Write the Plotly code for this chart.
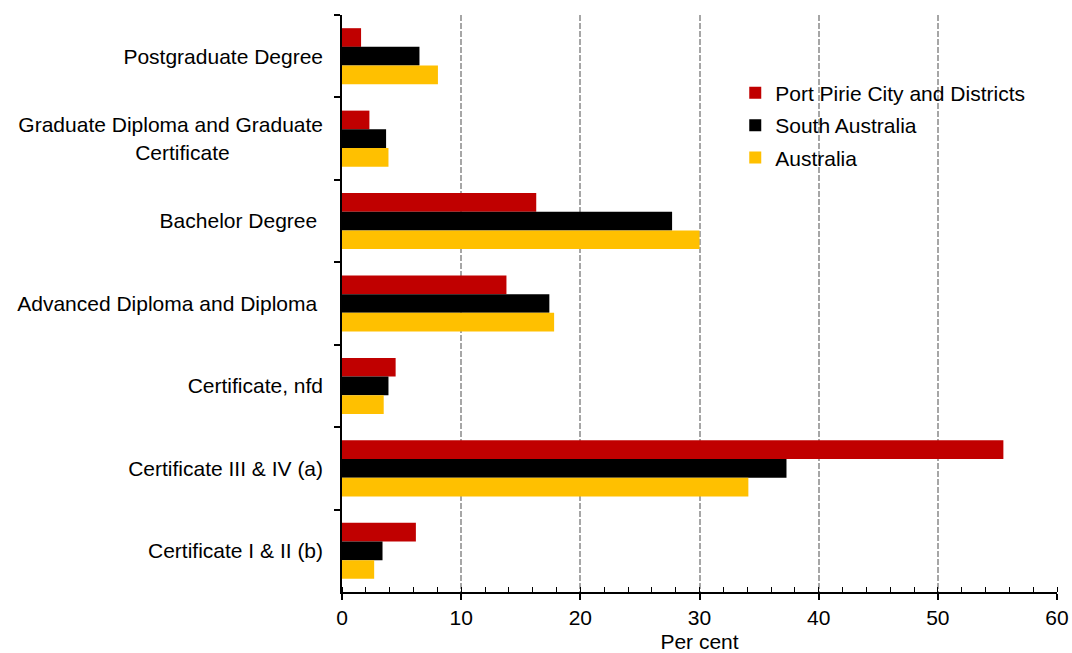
import plotly.graph_objects as go

categories = [
    "Postgraduate Degree",
    "Graduate Diploma and Graduate<br>Certificate" + "\u00a0" * 16,
    "Bachelor Degree\u00a0",
    "Advanced Diploma and Diploma\u00a0",
    "Certificate, nfd",
    "Certificate III & IV (a)",
    "Certificate I & II (b)",
]
port_pirie = [1.6, 2.3, 16.3, 13.8, 4.5, 55.5, 6.2]
south_australia = [6.5, 3.7, 27.7, 17.4, 3.9, 37.3, 3.4]
australia = [8.05, 3.9, 30.0, 17.8, 3.5, 34.1, 2.7]

series = [
    ("Port Pirie City and Districts", port_pirie, "#C00000"),
    ("South Australia", south_australia, "#000000"),
    ("Australia", australia, "#FFC000"),
]

fig = go.Figure()
for i, (name, vals, color) in enumerate(series):
    fig.add_trace(go.Bar(
        y=categories, x=vals, name=name, orientation="h",
        legendgroup=f"g{i}",
        marker=dict(color=color, line=dict(width=0)),
    ))

font_family = "Liberation Sans, Arial, sans-serif"
fig.update_layout(
    width=1072, height=653,
    margin=dict(l=342, r=15, t=15, b=61, autoexpand=False),
    paper_bgcolor="white", plot_bgcolor="white",
    barmode="group", bargap=0.32, bargroupgap=0,
    font=dict(family=font_family, size=21, color="black"),
    showlegend=True,
    legend=dict(x=0.55, y=0.90, xanchor="left", yanchor="top",
                bgcolor="rgba(0,0,0,0)", font=dict(size=21),
                tracegroupgap=2),
    xaxis=dict(
        range=[0, 60], dtick=10, tick0=0,
        showgrid=True, gridcolor="#A6A6A6", griddash="6px,2px", gridwidth=1.5,
        showline=True, linecolor="black", linewidth=1.5,
        ticks="outside", ticklen=6, tickwidth=1.5, tickcolor="black",
        minor=dict(dtick=2, ticks="inside", ticklen=5, tickwidth=1.2,
                   tickcolor="black", showgrid=False),
        zeroline=False, automargin=False, ticklabeloverflow="allow",
        title=dict(text="Per cent", font=dict(size=21), standoff=12),
        tickfont=dict(size=21),
    ),
    yaxis=dict(
        autorange="reversed", automargin=False,
        showline=True, linecolor="black", linewidth=1.5,
        ticks="outside", tickson="boundaries", ticklen=6, tickwidth=1.5,
        tickcolor="black", showgrid=False, zeroline=False,
        ticklabelstandoff=13,
        tickfont=dict(size=21),
    ),
)

# remove the default 8px page margin so the figure fills the window exactly
fig.write_html("out.html", config={"displayModeBar": False},
               post_script="document.body.style.margin='0';")
